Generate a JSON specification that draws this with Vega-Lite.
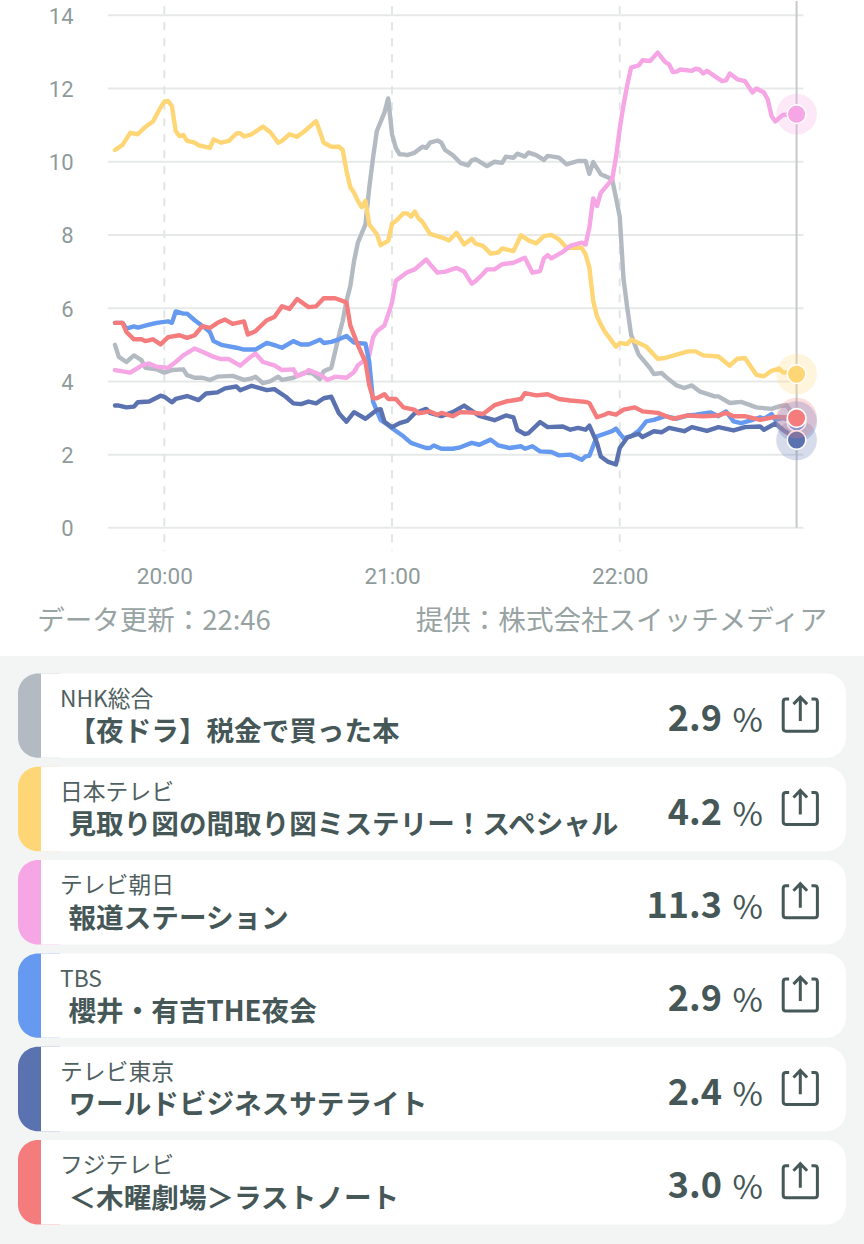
{"$schema":"https://vega.github.io/schema/vega-lite/v6.json","padding":0,"spacing":0,"background":"#ffffff","config":{"view":{"stroke":null},"concat":{"spacing":0}},
"datasets":{
"programs":[
{"channel":"NHK総合","title":"【夜ドラ】税金で買った本","rating":2.9,"label":"2.9"},
{"channel":"日本テレビ","title":"見取り図の間取り図ミステリー！スペシャル","rating":4.2,"label":"4.2"},
{"channel":"テレビ朝日","title":"報道ステーション","rating":11.3,"label":"11.3"},
{"channel":"TBS","title":"櫻井・有吉THE夜会","rating":2.9,"label":"2.9"},
{"channel":"テレビ東京","title":"ワールドビジネスサテライト","rating":2.4,"label":"2.4"},
{"channel":"フジテレビ","title":"＜木曜劇場＞ラストノート","rating":3.0,"label":"3.0"}],
"ratings":[
{"c":"NHK総合","t":"19:47","v":5.0},{"c":"NHK総合","t":"19:48","v":4.67},{"c":"NHK総合","t":"19:50","v":4.53},{"c":"NHK総合","t":"19:52","v":4.71},{"c":"NHK総合","t":"19:54","v":4.58},{"c":"NHK総合","t":"19:55","v":4.37},{"c":"NHK総合","t":"19:58","v":4.33},{"c":"NHK総合","t":"20:00","v":4.24},{"c":"NHK総合","t":"20:02","v":4.31},{"c":"NHK総合","t":"20:05","v":4.33},{"c":"NHK総合","t":"20:06","v":4.17},{"c":"NHK総合","t":"20:08","v":4.1},{"c":"NHK総合","t":"20:10","v":4.1},{"c":"NHK総合","t":"20:12","v":4.04},{"c":"NHK総合","t":"20:14","v":4.13},{"c":"NHK総合","t":"20:18","v":4.15},{"c":"NHK総合","t":"20:21","v":4.04},{"c":"NHK総合","t":"20:23","v":4.08},{"c":"NHK総合","t":"20:24","v":4.13},{"c":"NHK総合","t":"20:26","v":3.95},{"c":"NHK総合","t":"20:28","v":4.01},{"c":"NHK総合","t":"20:30","v":4.13},{"c":"NHK総合","t":"20:31","v":4.04},{"c":"NHK総合","t":"20:34","v":4.1},{"c":"NHK総合","t":"20:37","v":4.24},{"c":"NHK総合","t":"20:39","v":4.22},{"c":"NHK総合","t":"20:41","v":4.06},{"c":"NHK総合","t":"20:42","v":4.28},{"c":"NHK総合","t":"20:44","v":4.37},{"c":"NHK総合","t":"20:46","v":5.25},{"c":"NHK総合","t":"20:47","v":5.65},{"c":"NHK総合","t":"20:48","v":6.2},{"c":"NHK総合","t":"20:49","v":6.6},{"c":"NHK総合","t":"20:50","v":7.29},{"c":"NHK総合","t":"20:51","v":7.79},{"c":"NHK総合","t":"20:53","v":8.29},{"c":"NHK総合","t":"20:54","v":9.29},{"c":"NHK総合","t":"20:55","v":10.11},{"c":"NHK総合","t":"20:56","v":10.84},{"c":"NHK総合","t":"20:58","v":11.34},{"c":"NHK総合","t":"20:59","v":11.73},{"c":"NHK総合","t":"21:00","v":10.75},{"c":"NHK総合","t":"21:01","v":10.38},{"c":"NHK総合","t":"21:02","v":10.2},{"c":"NHK総合","t":"21:03","v":10.2},{"c":"NHK総合","t":"21:04","v":10.18},{"c":"NHK総合","t":"21:06","v":10.25},{"c":"NHK総合","t":"21:08","v":10.41},{"c":"NHK総合","t":"21:09","v":10.38},{"c":"NHK総合","t":"21:10","v":10.52},{"c":"NHK総合","t":"21:12","v":10.58},{"c":"NHK総合","t":"21:13","v":10.52},{"c":"NHK総合","t":"21:14","v":10.32},{"c":"NHK総合","t":"21:16","v":10.18},{"c":"NHK総合","t":"21:18","v":9.97},{"c":"NHK総合","t":"21:20","v":9.9},{"c":"NHK総合","t":"21:21","v":10.04},{"c":"NHK総合","t":"21:22","v":10.07},{"c":"NHK総合","t":"21:25","v":9.88},{"c":"NHK総合","t":"21:27","v":10.0},{"c":"NHK総合","t":"21:29","v":9.97},{"c":"NHK総合","t":"21:30","v":10.14},{"c":"NHK総合","t":"21:32","v":10.11},{"c":"NHK総合","t":"21:33","v":10.22},{"c":"NHK総合","t":"21:35","v":10.14},{"c":"NHK総合","t":"21:36","v":10.25},{"c":"NHK総合","t":"21:38","v":10.18},{"c":"NHK総合","t":"21:40","v":10.05},{"c":"NHK総合","t":"21:41","v":10.16},{"c":"NHK総合","t":"21:44","v":10.11},{"c":"NHK総合","t":"21:46","v":9.93},{"c":"NHK総合","t":"21:47","v":9.96},{"c":"NHK総合","t":"21:49","v":10.02},{"c":"NHK総合","t":"21:51","v":10.02},{"c":"NHK総合","t":"21:52","v":9.67},{"c":"NHK総合","t":"21:53","v":9.99},{"c":"NHK総合","t":"21:55","v":9.66},{"c":"NHK総合","t":"21:58","v":9.52},{"c":"NHK総合","t":"21:59","v":9.02},{"c":"NHK総合","t":"22:00","v":8.5},{"c":"NHK総合","t":"22:01","v":6.8},{"c":"NHK総合","t":"22:02","v":6.0},{"c":"NHK総合","t":"22:03","v":5.27},{"c":"NHK総合","t":"22:05","v":4.73},{"c":"NHK総合","t":"22:08","v":4.36},{"c":"NHK総合","t":"22:09","v":4.2},{"c":"NHK総合","t":"22:11","v":4.23},{"c":"NHK総合","t":"22:13","v":4.05},{"c":"NHK総合","t":"22:15","v":3.89},{"c":"NHK総合","t":"22:17","v":3.82},{"c":"NHK総合","t":"22:19","v":3.89},{"c":"NHK総合","t":"22:21","v":3.73},{"c":"NHK総合","t":"22:25","v":3.59},{"c":"NHK総合","t":"22:26","v":3.59},{"c":"NHK総合","t":"22:29","v":3.41},{"c":"NHK総合","t":"22:32","v":3.44},{"c":"NHK総合","t":"22:36","v":3.29},{"c":"NHK総合","t":"22:40","v":3.25},{"c":"NHK総合","t":"22:42","v":3.32},{"c":"NHK総合","t":"22:44","v":3.35},{"c":"NHK総合","t":"22:47","v":2.9},
{"c":"日本テレビ","t":"19:47","v":10.32},{"c":"日本テレビ","t":"19:49","v":10.46},{"c":"日本テレビ","t":"19:51","v":10.79},{"c":"日本テレビ","t":"19:53","v":10.75},{"c":"日本テレビ","t":"19:55","v":10.95},{"c":"日本テレビ","t":"19:57","v":11.1},{"c":"日本テレビ","t":"19:59","v":11.48},{"c":"日本テレビ","t":"20:00","v":11.64},{"c":"日本テレビ","t":"20:01","v":11.66},{"c":"日本テレビ","t":"20:02","v":11.52},{"c":"日本テレビ","t":"20:03","v":10.84},{"c":"日本テレビ","t":"20:04","v":10.7},{"c":"日本テレビ","t":"20:05","v":10.73},{"c":"日本テレビ","t":"20:06","v":10.57},{"c":"日本テレビ","t":"20:08","v":10.52},{"c":"日本テレビ","t":"20:09","v":10.45},{"c":"日本テレビ","t":"20:12","v":10.38},{"c":"日本テレビ","t":"20:13","v":10.61},{"c":"日本テレビ","t":"20:15","v":10.52},{"c":"日本テレビ","t":"20:17","v":10.57},{"c":"日本テレビ","t":"20:19","v":10.77},{"c":"日本テレビ","t":"20:20","v":10.78},{"c":"日本テレビ","t":"20:21","v":10.69},{"c":"日本テレビ","t":"20:23","v":10.75},{"c":"日本テレビ","t":"20:26","v":10.96},{"c":"日本テレビ","t":"20:28","v":10.8},{"c":"日本テレビ","t":"20:30","v":10.52},{"c":"日本テレビ","t":"20:31","v":10.57},{"c":"日本テレビ","t":"20:33","v":10.75},{"c":"日本テレビ","t":"20:35","v":10.68},{"c":"日本テレビ","t":"20:37","v":10.84},{"c":"日本テレビ","t":"20:39","v":11.02},{"c":"日本テレビ","t":"20:40","v":11.11},{"c":"日本テレビ","t":"20:42","v":10.52},{"c":"日本テレビ","t":"20:44","v":10.41},{"c":"日本テレビ","t":"20:46","v":10.41},{"c":"日本テレビ","t":"20:47","v":10.32},{"c":"日本テレビ","t":"20:48","v":9.75},{"c":"日本テレビ","t":"20:49","v":9.31},{"c":"日本テレビ","t":"20:50","v":9.15},{"c":"日本テレビ","t":"20:51","v":8.93},{"c":"日本テレビ","t":"20:52","v":8.76},{"c":"日本テレビ","t":"20:53","v":8.93},{"c":"日本テレビ","t":"20:54","v":8.29},{"c":"日本テレビ","t":"20:56","v":8.02},{"c":"日本テレビ","t":"20:57","v":7.72},{"c":"日本テレビ","t":"20:59","v":7.84},{"c":"日本テレビ","t":"21:00","v":8.31},{"c":"日本テレビ","t":"21:01","v":8.38},{"c":"日本テレビ","t":"21:03","v":8.59},{"c":"日本テレビ","t":"21:04","v":8.59},{"c":"日本テレビ","t":"21:05","v":8.5},{"c":"日本テレビ","t":"21:06","v":8.64},{"c":"日本テレビ","t":"21:07","v":8.45},{"c":"日本テレビ","t":"21:08","v":8.36},{"c":"日本テレビ","t":"21:10","v":8.03},{"c":"日本テレビ","t":"21:14","v":7.9},{"c":"日本テレビ","t":"21:15","v":7.85},{"c":"日本テレビ","t":"21:17","v":8.06},{"c":"日本テレビ","t":"21:19","v":7.74},{"c":"日本テレビ","t":"21:21","v":7.9},{"c":"日本テレビ","t":"21:22","v":7.76},{"c":"日本テレビ","t":"21:24","v":7.7},{"c":"日本テレビ","t":"21:26","v":7.49},{"c":"日本テレビ","t":"21:28","v":7.52},{"c":"日本テレビ","t":"21:29","v":7.63},{"c":"日本テレビ","t":"21:32","v":7.56},{"c":"日本テレビ","t":"21:34","v":7.99},{"c":"日本テレビ","t":"21:36","v":7.85},{"c":"日本テレビ","t":"21:38","v":7.77},{"c":"日本テレビ","t":"21:40","v":7.97},{"c":"日本テレビ","t":"21:42","v":8.0},{"c":"日本テレビ","t":"21:44","v":7.88},{"c":"日本テレビ","t":"21:46","v":7.65},{"c":"日本テレビ","t":"21:50","v":7.65},{"c":"日本テレビ","t":"21:51","v":7.47},{"c":"日本テレビ","t":"21:52","v":7.11},{"c":"日本テレビ","t":"21:53","v":6.2},{"c":"日本テレビ","t":"21:54","v":5.78},{"c":"日本テレビ","t":"21:55","v":5.56},{"c":"日本テレビ","t":"21:56","v":5.37},{"c":"日本テレビ","t":"21:59","v":4.95},{"c":"日本テレビ","t":"22:00","v":5.05},{"c":"日本テレビ","t":"22:02","v":5.02},{"c":"日本テレビ","t":"22:03","v":5.14},{"c":"日本テレビ","t":"22:05","v":5.05},{"c":"日本テレビ","t":"22:07","v":4.95},{"c":"日本テレビ","t":"22:10","v":4.62},{"c":"日本テレビ","t":"22:12","v":4.64},{"c":"日本テレビ","t":"22:15","v":4.73},{"c":"日本テレビ","t":"22:18","v":4.82},{"c":"日本テレビ","t":"22:20","v":4.82},{"c":"日本テレビ","t":"22:22","v":4.71},{"c":"日本テレビ","t":"22:26","v":4.68},{"c":"日本テレビ","t":"22:29","v":4.43},{"c":"日本テレビ","t":"22:31","v":4.62},{"c":"日本テレビ","t":"22:33","v":4.64},{"c":"日本テレビ","t":"22:36","v":4.18},{"c":"日本テレビ","t":"22:38","v":4.14},{"c":"日本テレビ","t":"22:40","v":4.29},{"c":"日本テレビ","t":"22:42","v":4.35},{"c":"日本テレビ","t":"22:43","v":4.25},{"c":"日本テレビ","t":"22:47","v":4.2},
{"c":"テレビ朝日","t":"19:47","v":4.31},{"c":"テレビ朝日","t":"19:51","v":4.24},{"c":"テレビ朝日","t":"19:54","v":4.43},{"c":"テレビ朝日","t":"19:56","v":4.49},{"c":"テレビ朝日","t":"19:58","v":4.4},{"c":"テレビ朝日","t":"20:01","v":4.37},{"c":"テレビ朝日","t":"20:03","v":4.53},{"c":"テレビ朝日","t":"20:05","v":4.71},{"c":"テレビ朝日","t":"20:08","v":4.9},{"c":"テレビ朝日","t":"20:10","v":4.81},{"c":"テレビ朝日","t":"20:13","v":4.67},{"c":"テレビ朝日","t":"20:15","v":4.61},{"c":"テレビ朝日","t":"20:17","v":4.61},{"c":"テレビ朝日","t":"20:20","v":4.43},{"c":"テレビ朝日","t":"20:22","v":4.61},{"c":"テレビ朝日","t":"20:24","v":4.76},{"c":"テレビ朝日","t":"20:26","v":4.53},{"c":"テレビ朝日","t":"20:29","v":4.44},{"c":"テレビ朝日","t":"20:31","v":4.31},{"c":"テレビ朝日","t":"20:34","v":4.33},{"c":"テレビ朝日","t":"20:35","v":4.15},{"c":"テレビ朝日","t":"20:37","v":4.22},{"c":"テレビ朝日","t":"20:38","v":4.31},{"c":"テレビ朝日","t":"20:41","v":4.19},{"c":"テレビ朝日","t":"20:43","v":4.04},{"c":"テレビ朝日","t":"20:45","v":4.13},{"c":"テレビ朝日","t":"20:48","v":4.1},{"c":"テレビ朝日","t":"20:50","v":4.26},{"c":"テレビ朝日","t":"20:51","v":4.44},{"c":"テレビ朝日","t":"20:52","v":4.52},{"c":"テレビ朝日","t":"20:54","v":4.71},{"c":"テレビ朝日","t":"20:55","v":5.2},{"c":"テレビ朝日","t":"20:56","v":5.37},{"c":"テレビ朝日","t":"20:58","v":5.53},{"c":"テレビ朝日","t":"20:59","v":5.83},{"c":"テレビ朝日","t":"21:00","v":6.15},{"c":"テレビ朝日","t":"21:01","v":6.75},{"c":"テレビ朝日","t":"21:04","v":6.98},{"c":"テレビ朝日","t":"21:06","v":7.06},{"c":"テレビ朝日","t":"21:09","v":7.33},{"c":"テレビ朝日","t":"21:10","v":7.2},{"c":"テレビ朝日","t":"21:12","v":6.97},{"c":"テレビ朝日","t":"21:14","v":7.0},{"c":"テレビ朝日","t":"21:17","v":7.1},{"c":"テレビ朝日","t":"21:19","v":7.0},{"c":"テレビ朝日","t":"21:21","v":6.67},{"c":"テレビ朝日","t":"21:22","v":6.74},{"c":"テレビ朝日","t":"21:24","v":6.94},{"c":"テレビ朝日","t":"21:25","v":7.06},{"c":"テレビ朝日","t":"21:27","v":7.06},{"c":"テレビ朝日","t":"21:29","v":7.2},{"c":"テレビ朝日","t":"21:32","v":7.24},{"c":"テレビ朝日","t":"21:35","v":7.38},{"c":"テレビ朝日","t":"21:37","v":6.97},{"c":"テレビ朝日","t":"21:39","v":7.01},{"c":"テレビ朝日","t":"21:40","v":7.36},{"c":"テレビ朝日","t":"21:41","v":7.45},{"c":"テレビ朝日","t":"21:42","v":7.36},{"c":"テレビ朝日","t":"21:45","v":7.54},{"c":"テレビ朝日","t":"21:47","v":7.7},{"c":"テレビ朝日","t":"21:50","v":7.79},{"c":"テレビ朝日","t":"21:51","v":7.74},{"c":"テレビ朝日","t":"21:52","v":8.2},{"c":"テレビ朝日","t":"21:53","v":9.0},{"c":"テレビ朝日","t":"21:54","v":8.79},{"c":"テレビ朝日","t":"21:55","v":9.15},{"c":"テレビ朝日","t":"21:58","v":9.52},{"c":"テレビ朝日","t":"21:59","v":10.11},{"c":"テレビ朝日","t":"22:00","v":10.9},{"c":"テレビ朝日","t":"22:01","v":11.55},{"c":"テレビ朝日","t":"22:02","v":12.1},{"c":"テレビ朝日","t":"22:03","v":12.57},{"c":"テレビ朝日","t":"22:05","v":12.63},{"c":"テレビ朝日","t":"22:06","v":12.77},{"c":"テレビ朝日","t":"22:08","v":12.75},{"c":"テレビ朝日","t":"22:10","v":12.98},{"c":"テレビ朝日","t":"22:12","v":12.72},{"c":"テレビ朝日","t":"22:13","v":12.66},{"c":"テレビ朝日","t":"22:14","v":12.45},{"c":"テレビ朝日","t":"22:15","v":12.46},{"c":"テレビ朝日","t":"22:16","v":12.52},{"c":"テレビ朝日","t":"22:19","v":12.48},{"c":"テレビ朝日","t":"22:20","v":12.54},{"c":"テレビ朝日","t":"22:21","v":12.52},{"c":"テレビ朝日","t":"22:22","v":12.41},{"c":"テレビ朝日","t":"22:23","v":12.48},{"c":"テレビ朝日","t":"22:25","v":12.34},{"c":"テレビ朝日","t":"22:27","v":12.2},{"c":"テレビ朝日","t":"22:28","v":12.22},{"c":"テレビ朝日","t":"22:29","v":12.41},{"c":"テレビ朝日","t":"22:31","v":12.25},{"c":"テレビ朝日","t":"22:33","v":12.2},{"c":"テレビ朝日","t":"22:35","v":11.89},{"c":"テレビ朝日","t":"22:36","v":12.0},{"c":"テレビ朝日","t":"22:38","v":11.89},{"c":"テレビ朝日","t":"22:39","v":11.7},{"c":"テレビ朝日","t":"22:40","v":11.25},{"c":"テレビ朝日","t":"22:41","v":11.1},{"c":"テレビ朝日","t":"22:43","v":11.28},{"c":"テレビ朝日","t":"22:47","v":11.3},
{"c":"TBS","t":"19:47","v":5.6},{"c":"TBS","t":"19:49","v":5.6},{"c":"TBS","t":"19:50","v":5.44},{"c":"TBS","t":"19:52","v":5.5},{"c":"TBS","t":"19:53","v":5.47},{"c":"TBS","t":"19:56","v":5.55},{"c":"TBS","t":"19:58","v":5.6},{"c":"TBS","t":"20:01","v":5.64},{"c":"TBS","t":"20:02","v":5.6},{"c":"TBS","t":"20:03","v":5.91},{"c":"TBS","t":"20:05","v":5.85},{"c":"TBS","t":"20:06","v":5.85},{"c":"TBS","t":"20:08","v":5.67},{"c":"TBS","t":"20:11","v":5.44},{"c":"TBS","t":"20:12","v":5.35},{"c":"TBS","t":"20:13","v":5.1},{"c":"TBS","t":"20:15","v":5.0},{"c":"TBS","t":"20:19","v":4.92},{"c":"TBS","t":"20:21","v":4.87},{"c":"TBS","t":"20:24","v":4.87},{"c":"TBS","t":"20:27","v":5.05},{"c":"TBS","t":"20:29","v":4.99},{"c":"TBS","t":"20:31","v":4.92},{"c":"TBS","t":"20:34","v":5.1},{"c":"TBS","t":"20:36","v":5.01},{"c":"TBS","t":"20:38","v":5.01},{"c":"TBS","t":"20:41","v":5.14},{"c":"TBS","t":"20:42","v":5.05},{"c":"TBS","t":"20:44","v":5.08},{"c":"TBS","t":"20:46","v":5.15},{"c":"TBS","t":"20:48","v":5.24},{"c":"TBS","t":"20:50","v":5.06},{"c":"TBS","t":"20:53","v":5.03},{"c":"TBS","t":"20:54","v":4.53},{"c":"TBS","t":"20:55","v":3.45},{"c":"TBS","t":"20:57","v":2.95},{"c":"TBS","t":"20:59","v":2.8},{"c":"TBS","t":"21:00","v":2.72},{"c":"TBS","t":"21:03","v":2.5},{"c":"TBS","t":"21:05","v":2.32},{"c":"TBS","t":"21:07","v":2.25},{"c":"TBS","t":"21:09","v":2.18},{"c":"TBS","t":"21:10","v":2.18},{"c":"TBS","t":"21:11","v":2.25},{"c":"TBS","t":"21:13","v":2.16},{"c":"TBS","t":"21:16","v":2.16},{"c":"TBS","t":"21:18","v":2.2},{"c":"TBS","t":"21:21","v":2.32},{"c":"TBS","t":"21:23","v":2.27},{"c":"TBS","t":"21:26","v":2.41},{"c":"TBS","t":"21:28","v":2.25},{"c":"TBS","t":"21:31","v":2.18},{"c":"TBS","t":"21:34","v":2.23},{"c":"TBS","t":"21:35","v":2.16},{"c":"TBS","t":"21:37","v":2.23},{"c":"TBS","t":"21:39","v":2.09},{"c":"TBS","t":"21:42","v":2.07},{"c":"TBS","t":"21:44","v":1.98},{"c":"TBS","t":"21:47","v":2.0},{"c":"TBS","t":"21:50","v":1.86},{"c":"TBS","t":"21:51","v":1.95},{"c":"TBS","t":"21:52","v":1.97},{"c":"TBS","t":"21:54","v":2.5},{"c":"TBS","t":"21:56","v":2.57},{"c":"TBS","t":"21:58","v":2.64},{"c":"TBS","t":"21:59","v":2.71},{"c":"TBS","t":"22:01","v":2.45},{"c":"TBS","t":"22:03","v":2.5},{"c":"TBS","t":"22:05","v":2.65},{"c":"TBS","t":"22:07","v":2.91},{"c":"TBS","t":"22:09","v":2.95},{"c":"TBS","t":"22:12","v":3.05},{"c":"TBS","t":"22:15","v":2.98},{"c":"TBS","t":"22:18","v":3.07},{"c":"TBS","t":"22:20","v":3.09},{"c":"TBS","t":"22:23","v":3.14},{"c":"TBS","t":"22:24","v":3.15},{"c":"TBS","t":"22:26","v":3.05},{"c":"TBS","t":"22:28","v":3.18},{"c":"TBS","t":"22:30","v":2.91},{"c":"TBS","t":"22:32","v":2.86},{"c":"TBS","t":"22:35","v":2.95},{"c":"TBS","t":"22:37","v":3.02},{"c":"TBS","t":"22:38","v":2.98},{"c":"TBS","t":"22:40","v":3.11},{"c":"TBS","t":"22:41","v":2.95},{"c":"TBS","t":"22:43","v":3.0},{"c":"TBS","t":"22:47","v":2.9},
{"c":"テレビ東京","t":"19:47","v":3.34},{"c":"テレビ東京","t":"19:48","v":3.34},{"c":"テレビ東京","t":"19:50","v":3.29},{"c":"テレビ東京","t":"19:52","v":3.31},{"c":"テレビ東京","t":"19:53","v":3.43},{"c":"テレビ東京","t":"19:56","v":3.45},{"c":"テレビ東京","t":"19:59","v":3.61},{"c":"テレビ東京","t":"20:00","v":3.58},{"c":"テレビ東京","t":"20:02","v":3.43},{"c":"テレビ東京","t":"20:03","v":3.52},{"c":"テレビ東京","t":"20:06","v":3.6},{"c":"テレビ東京","t":"20:09","v":3.49},{"c":"テレビ東京","t":"20:11","v":3.67},{"c":"テレビ東京","t":"20:14","v":3.7},{"c":"テレビ東京","t":"20:16","v":3.81},{"c":"テレビ東京","t":"20:19","v":3.86},{"c":"テレビ東京","t":"20:20","v":3.76},{"c":"テレビ東京","t":"20:23","v":3.88},{"c":"テレビ東京","t":"20:27","v":3.76},{"c":"テレビ東京","t":"20:29","v":3.79},{"c":"テレビ東京","t":"20:32","v":3.58},{"c":"テレビ東京","t":"20:34","v":3.4},{"c":"テレビ東京","t":"20:36","v":3.38},{"c":"テレビ東京","t":"20:38","v":3.45},{"c":"テレビ東京","t":"20:40","v":3.4},{"c":"テレビ東京","t":"20:42","v":3.54},{"c":"テレビ東京","t":"20:44","v":3.58},{"c":"テレビ東京","t":"20:46","v":3.13},{"c":"テレビ東京","t":"20:48","v":2.9},{"c":"テレビ東京","t":"20:50","v":3.16},{"c":"テレビ東京","t":"20:53","v":2.98},{"c":"テレビ東京","t":"20:56","v":3.22},{"c":"テレビ東京","t":"20:57","v":3.24},{"c":"テレビ東京","t":"20:58","v":2.9},{"c":"テレビ東京","t":"21:00","v":2.75},{"c":"テレビ東京","t":"21:02","v":2.86},{"c":"テレビ東京","t":"21:04","v":2.92},{"c":"テレビ東京","t":"21:06","v":3.13},{"c":"テレビ東京","t":"21:09","v":3.25},{"c":"テレビ東京","t":"21:10","v":3.14},{"c":"テレビ東京","t":"21:13","v":3.05},{"c":"テレビ東京","t":"21:16","v":3.16},{"c":"テレビ東京","t":"21:19","v":3.34},{"c":"テレビ東京","t":"21:23","v":3.06},{"c":"テレビ東京","t":"21:27","v":2.94},{"c":"テレビ東京","t":"21:30","v":3.07},{"c":"テレビ東京","t":"21:32","v":3.02},{"c":"テレビ東京","t":"21:33","v":2.68},{"c":"テレビ東京","t":"21:35","v":2.56},{"c":"テレビ東京","t":"21:36","v":2.59},{"c":"テレビ東京","t":"21:39","v":2.89},{"c":"テレビ東京","t":"21:41","v":2.75},{"c":"テレビ東京","t":"21:45","v":2.77},{"c":"テレビ東京","t":"21:47","v":2.68},{"c":"テレビ東京","t":"21:49","v":2.73},{"c":"テレビ東京","t":"21:51","v":2.68},{"c":"テレビ東京","t":"21:52","v":2.79},{"c":"テレビ東京","t":"21:54","v":2.32},{"c":"テレビ東京","t":"21:55","v":1.95},{"c":"テレビ東京","t":"21:57","v":1.8},{"c":"テレビ東京","t":"21:59","v":1.73},{"c":"テレビ東京","t":"22:00","v":2.18},{"c":"テレビ東京","t":"22:02","v":2.47},{"c":"テレビ東京","t":"22:05","v":2.57},{"c":"テレビ東京","t":"22:06","v":2.48},{"c":"テレビ東京","t":"22:09","v":2.64},{"c":"テレビ東京","t":"22:11","v":2.61},{"c":"テレビ東京","t":"22:13","v":2.73},{"c":"テレビ東京","t":"22:17","v":2.64},{"c":"テレビ東京","t":"22:19","v":2.75},{"c":"テレビ東京","t":"22:23","v":2.65},{"c":"テレビ東京","t":"22:26","v":2.75},{"c":"テレビ東京","t":"22:30","v":2.66},{"c":"テレビ東京","t":"22:33","v":2.75},{"c":"テレビ東京","t":"22:37","v":2.77},{"c":"テレビ東京","t":"22:38","v":2.68},{"c":"テレビ東京","t":"22:41","v":2.85},{"c":"テレビ東京","t":"22:43","v":2.68},{"c":"テレビ東京","t":"22:47","v":2.4},
{"c":"フジテレビ","t":"19:47","v":5.6},{"c":"フジテレビ","t":"19:49","v":5.6},{"c":"フジテレビ","t":"19:50","v":5.35},{"c":"フジテレビ","t":"19:52","v":5.15},{"c":"フジテレビ","t":"19:54","v":5.15},{"c":"フジテレビ","t":"19:55","v":5.1},{"c":"フジテレビ","t":"19:57","v":5.15},{"c":"フジテレビ","t":"19:59","v":5.01},{"c":"フジテレビ","t":"20:01","v":5.21},{"c":"フジテレビ","t":"20:04","v":5.26},{"c":"フジテレビ","t":"20:06","v":5.19},{"c":"フジテレビ","t":"20:08","v":5.26},{"c":"フジテレビ","t":"20:10","v":5.51},{"c":"フジテレビ","t":"20:12","v":5.46},{"c":"フジテレビ","t":"20:14","v":5.6},{"c":"フジテレビ","t":"20:16","v":5.69},{"c":"フジテレビ","t":"20:18","v":5.57},{"c":"フジテレビ","t":"20:21","v":5.64},{"c":"フジテレビ","t":"20:22","v":5.28},{"c":"フジテレビ","t":"20:24","v":5.37},{"c":"フジテレビ","t":"20:27","v":5.67},{"c":"フジテレビ","t":"20:29","v":5.76},{"c":"フジテレビ","t":"20:31","v":6.05},{"c":"フジテレビ","t":"20:33","v":5.98},{"c":"フジテレビ","t":"20:35","v":6.25},{"c":"フジテレビ","t":"20:38","v":6.03},{"c":"フジテレビ","t":"20:40","v":6.05},{"c":"フジテレビ","t":"20:42","v":6.27},{"c":"フジテレビ","t":"20:45","v":6.27},{"c":"フジテレビ","t":"20:48","v":6.16},{"c":"フジテレビ","t":"20:49","v":5.53},{"c":"フジテレビ","t":"20:51","v":4.99},{"c":"フジテレビ","t":"20:53","v":4.53},{"c":"フジテレビ","t":"20:54","v":3.9},{"c":"フジテレビ","t":"20:55","v":3.54},{"c":"フジテレビ","t":"20:56","v":3.54},{"c":"フジテレビ","t":"20:58","v":3.65},{"c":"フジテレビ","t":"20:59","v":3.52},{"c":"フジテレビ","t":"21:01","v":3.52},{"c":"フジテレビ","t":"21:03","v":3.29},{"c":"フジテレビ","t":"21:06","v":3.22},{"c":"フジテレビ","t":"21:07","v":3.13},{"c":"フジテレビ","t":"21:10","v":3.18},{"c":"フジテレビ","t":"21:12","v":3.09},{"c":"フジテレビ","t":"21:13","v":3.14},{"c":"フジテレビ","t":"21:16","v":3.05},{"c":"フジテレビ","t":"21:18","v":3.16},{"c":"フジテレビ","t":"21:21","v":3.15},{"c":"フジテレビ","t":"21:24","v":3.11},{"c":"フジテレビ","t":"21:27","v":3.35},{"c":"フジテレビ","t":"21:30","v":3.45},{"c":"フジテレビ","t":"21:34","v":3.52},{"c":"フジテレビ","t":"21:35","v":3.68},{"c":"フジテレビ","t":"21:38","v":3.62},{"c":"フジテレビ","t":"21:41","v":3.65},{"c":"フジテレビ","t":"21:44","v":3.52},{"c":"フジテレビ","t":"21:47","v":3.48},{"c":"フジテレビ","t":"21:51","v":3.44},{"c":"フジテレビ","t":"21:52","v":3.41},{"c":"フジテレビ","t":"21:54","v":3.02},{"c":"フジテレビ","t":"21:56","v":3.09},{"c":"フジテレビ","t":"21:57","v":3.14},{"c":"フジテレビ","t":"21:59","v":3.09},{"c":"フジテレビ","t":"22:01","v":3.23},{"c":"フジテレビ","t":"22:04","v":3.29},{"c":"フジテレビ","t":"22:06","v":3.18},{"c":"フジテレビ","t":"22:10","v":3.14},{"c":"フジテレビ","t":"22:14","v":2.98},{"c":"フジテレビ","t":"22:18","v":3.07},{"c":"フジテレビ","t":"22:22","v":3.05},{"c":"フジテレビ","t":"22:26","v":3.07},{"c":"フジテレビ","t":"22:28","v":3.14},{"c":"フジテレビ","t":"22:30","v":3.05},{"c":"フジテレビ","t":"22:33","v":3.05},{"c":"フジテレビ","t":"22:37","v":2.95},{"c":"フジテレビ","t":"22:41","v":3.03},{"c":"フジテレビ","t":"22:43","v":3.02},{"c":"フジテレビ","t":"22:47","v":3.0}
]},
"vconcat":[
{"width":864,"height":655,
"layer":[
{"data":{"values":[{"g":0},{"g":2},{"g":4},{"g":6},{"g":8},{"g":10},{"g":12},{"g":14}]},
"mark":{"type":"rule","stroke":"#e7e9e9","strokeWidth":2},
"encoding":{
"y":{"field":"g","type":"quantitative","scale":{"domain":[-3.5,14.39],"nice":false,"zero":false},"axis":{"orient":"left","offset":-80,"values":[0,2,4,6,8,10,12,14],"domain":false,"ticks":false,"grid":false,"title":null,"labelFont":"Roboto","labelFontSize":22,"labelColor":"#8f9b9b","labelPadding":7,"labelOverlap":false,"labelBound":false,"labelFlush":false,"labelOffset":1}},
"x":{"datum":{"year":1900,"month":1,"date":1,"hours":19,"minutes":45,"seconds":6},"type":"temporal","scale":{"domain":[{"year":1900,"month":1,"date":1,"hours":19,"minutes":16,"seconds":42},{"year":1900,"month":1,"date":1,"hours":23,"minutes":4,"seconds":22}],"nice":false},"axis":{"orient":"bottom","offset":-100,"values":[{"year":1900,"month":1,"date":1,"hours":20},{"year":1900,"month":1,"date":1,"hours":21},{"year":1900,"month":1,"date":1,"hours":22}],"format":"%H:%M","domain":false,"ticks":false,"grid":false,"title":null,"labelFont":"Roboto","labelFontSize":22.6,"labelColor":"#8f9b9b","labelPadding":9,"labelFlush":false}},
"x2":{"datum":{"year":1900,"month":1,"date":1,"hours":22,"minutes":48,"seconds":24}}}},
{"data":{"values":[{"t":"20:00"},{"t":"21:00"},{"t":"22:00"}],"format":{"parse":{"t":"date:'%H:%M'"}}},
"mark":{"type":"rule","stroke":"#e2e5e5","strokeWidth":2,"strokeDash":[8,8]},
"encoding":{"x":{"field":"t","type":"temporal"},"y":{"datum":14.25,"type":"quantitative"},"y2":{"datum":-0.63}}},
{"data":{"values":[{"label":"cursor"}]},
"mark":{"type":"rule","stroke":"#c6caca","strokeWidth":2},
"encoding":{"x":{"datum":{"year":1900,"month":1,"date":1,"hours":22,"minutes":46,"seconds":36},"type":"temporal"},"y":{"datum":14.39,"type":"quantitative"},"y2":{"datum":0}}},
{"data":{"name":"ratings","format":{"parse":{"t":"date:'%H:%M'"}}},
"mark":{"type":"line","strokeWidth":4.4,"strokeJoin":"round","strokeCap":"round"},
"encoding":{"x":{"field":"t","type":"temporal"},"y":{"field":"v","type":"quantitative"},
"detail":{"field":"c"},
"order":{"field":"t","type":"temporal"},
"color":{"field":"c","type":"nominal","legend":null,"sort":null,"scale":{"domain":["NHK総合","日本テレビ","テレビ朝日","TBS","テレビ東京","フジテレビ"],"range":["#b3bac2","#ffd675","#f6a5e5","#6699f0","#5a72b0","#f47c7c"]}}}},
{"data":{"name":"programs"},"transform":[{"filter":"datum.channel !== 'フジテレビ'"}],
"mark":{"type":"point","filled":true,"size":1660,"opacity":0.25},
"encoding":{"x":{"datum":{"year":1900,"month":1,"date":1,"hours":22,"minutes":46,"seconds":36},"type":"temporal"},"y":{"field":"rating","type":"quantitative"},"color":{"field":"channel","type":"nominal","legend":null}}},
{"data":{"name":"programs"},"transform":[{"filter":"datum.channel !== 'フジテレビ'"}],
"mark":{"type":"point","filled":true,"size":350,"opacity":1,"stroke":"#ffffff","strokeWidth":1.6,"strokeOpacity":1},
"encoding":{"x":{"datum":{"year":1900,"month":1,"date":1,"hours":22,"minutes":46,"seconds":36},"type":"temporal"},"y":{"field":"rating","type":"quantitative"},"color":{"field":"channel","type":"nominal","legend":null}}},
{"data":{"name":"programs"},"transform":[{"filter":"datum.channel === 'フジテレビ'"}],
"mark":{"type":"point","filled":true,"size":1660,"opacity":0.25},
"encoding":{"x":{"datum":{"year":1900,"month":1,"date":1,"hours":22,"minutes":46,"seconds":36},"type":"temporal"},"y":{"field":"rating","type":"quantitative"},"color":{"field":"channel","type":"nominal","legend":null}}},
{"data":{"name":"programs"},"transform":[{"filter":"datum.channel === 'フジテレビ'"}],
"mark":{"type":"point","filled":true,"size":350,"opacity":1,"stroke":"#ffffff","strokeWidth":1.6,"strokeOpacity":1},
"encoding":{"x":{"datum":{"year":1900,"month":1,"date":1,"hours":22,"minutes":46,"seconds":36},"type":"temporal"},"y":{"field":"rating","type":"quantitative"},"color":{"field":"channel","type":"nominal","legend":null}}},
{"data":{"values":[{"note":"データ更新：22:46"}]},
"mark":{"type":"text","align":"left","baseline":"middle","font":"Noto Sans CJK JP","fontSize":27.5,"color":"#98a3a3"},
"encoding":{"text":{"field":"note"},"x":{"datum":{"year":1900,"month":1,"date":1,"hours":19,"minutes":26,"seconds":30},"type":"temporal"},"y":{"datum":-2.57,"type":"quantitative"}}},
{"data":{"values":[{"note":"提供：株式会社スイッチメディア"}]},
"mark":{"type":"text","align":"right","baseline":"middle","font":"Noto Sans CJK JP","fontSize":27.55,"color":"#98a3a3"},
"encoding":{"text":{"field":"note"},"x":{"datum":{"year":1900,"month":1,"date":1,"hours":22,"minutes":54,"seconds":37},"type":"temporal"},"y":{"datum":-2.57,"type":"quantitative"}}}
]},
{"width":864,"height":589,"view":{"fill":"#f3f5f5","stroke":null},
"data":{"name":"programs"},
"encoding":{"y":{"field":"channel","type":"nominal","sort":null,"axis":null,"scale":{"domain":["NHK総合","日本テレビ","テレビ朝日","TBS","テレビ東京","フジテレビ"],"paddingInner":0.0957,"paddingOuter":0.2035,"align":0.46}}},
"layer":[
{"mark":{"type":"bar","cornerRadiusTopLeft":20,"cornerRadiusBottomLeft":20},
"encoding":{"x":{"datum":18,"type":"quantitative","axis":null,"scale":{"domain":[0,864],"nice":false,"zero":false}},"x2":{"datum":60},"color":{"field":"channel","type":"nominal","legend":null,"scale":{"domain":["NHK総合","日本テレビ","テレビ朝日","TBS","テレビ東京","フジテレビ"],"range":["#b3bac2","#ffd675","#f6a5e5","#6699f0","#5a72b0","#f47c7c"]}}}},
{"mark":{"type":"bar","color":"#ffffff","cornerRadiusTopRight":20,"cornerRadiusBottomRight":20},
"encoding":{"x":{"datum":41,"type":"quantitative"},"x2":{"datum":846}}},
{"mark":{"type":"text","align":"left","baseline":"middle","font":"Noto Sans CJK JP","fontSize":22.8,"color":"#4f6060"},
"encoding":{"text":{"field":"channel"},"x":{"datum":60,"type":"quantitative"},"y":{"field":"channel","type":"nominal","sort":null,"bandPosition":0.31}}},
{"mark":{"type":"text","align":"left","baseline":"middle","font":"Noto Sans CJK JP","fontSize":27.6,"fontWeight":700,"color":"#455757"},
"encoding":{"text":{"field":"title"},"x":{"datum":68.5,"type":"quantitative"},"y":{"field":"channel","type":"nominal","sort":null,"bandPosition":0.705}}},
{"mark":{"type":"text","align":"right","baseline":"middle","font":"Noto Sans CJK JP","fontSize":36,"fontWeight":700,"color":"#455757"},
"encoding":{"text":{"field":"label"},"x":{"datum":722,"type":"quantitative"},"y":{"field":"channel","type":"nominal","sort":null,"bandPosition":0.555}}},
{"transform":[{"calculate":"'%'","as":"unit"}],"mark":{"type":"text","align":"left","baseline":"middle","font":"Noto Sans CJK JP","fontSize":33,"color":"#455757"},
"encoding":{"text":{"field":"unit"},"x":{"datum":732.5,"type":"quantitative"},"y":{"field":"channel","type":"nominal","sort":null,"bandPosition":0.58}}},
{"mark":{"type":"point","filled":false,"size":1296,"stroke":"#465858","strokeWidth":3,"opacity":1,"shape":"M-0.62 -0.86 L-0.8 -0.86 Q-0.95 -0.86 -0.95 -0.7 L-0.95 0.76 Q-0.95 0.92 -0.8 0.92 L0.8 0.92 Q0.95 0.92 0.95 0.76 L0.95 -0.7 Q0.95 -0.86 0.8 -0.86 L0.62 -0.86 M0 0.36 L0 -0.97 M-0.38 -0.58 L0 -0.97 L0.38 -0.58"},
"encoding":{"x":{"datum":800.3,"type":"quantitative"},"y":{"field":"channel","type":"nominal","sort":null,"bandPosition":0.487}}}
]}
]}
